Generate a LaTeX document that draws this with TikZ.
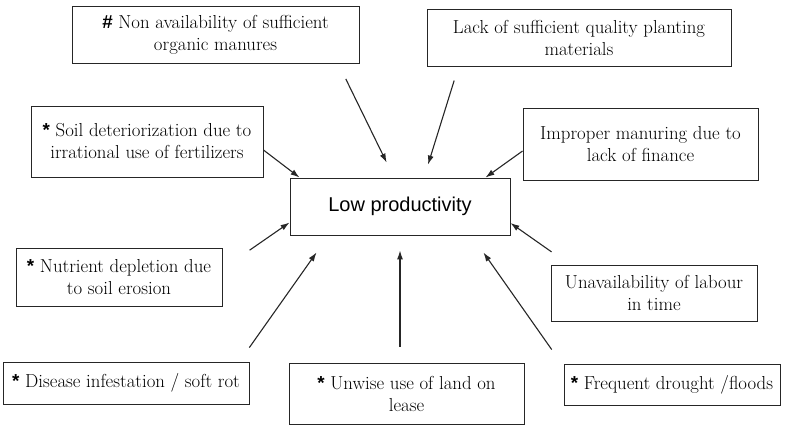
\documentclass[tikz,border=0pt]{standalone}
\usepackage{fontspec}
\usetikzlibrary{arrows.meta}
\newfontfamily\headfont{Liberation Sans}
\newcommand{\bullmark}[1]{{\headfont\bfseries #1}}
\begin{document}
\begin{tikzpicture}[x=1pt,y=-1pt,
    cause/.style={draw=black!85, line width=0.9pt, align=center, inner sep=0pt, font=\rmfamily\fontsize{18.8}{22}\selectfont},
    arr/.style={-{Latex[length=9pt,width=6pt]}, line width=1.1pt, black!85}]
	\useasboundingbox (0,0) rectangle (800,428);
    \node[cause, minimum width=287, minimum height=57] (manure) at (215.5,35) {\bullmark{\#} Non availability of sufficient\\organic manures};
    \node[cause, minimum width=304, minimum height=57] (planting) at (579,37.5) {Lack of sufficient quality planting\\materials};
    \node[cause, minimum width=232, minimum height=71] (soil) at (147,141.5) {\bullmark{*} Soil deteriorization due to\\irrational use of fertilizers};
    \node[cause, minimum width=235, minimum height=72] (finance) at (640.5,144) {Improper manuring due to\\lack of finance};
    \node[cause, minimum width=220, minimum height=57, font=\headfont\fontsize{20}{22}\selectfont] (low) at (400,206.5) {Low productivity};
    \node[cause, minimum width=206, minimum height=58] (nutrient) at (119,277) {\bullmark{*} Nutrient depletion due\\to soil erosion};
    \node[cause, minimum width=206, minimum height=56] (labour) at (654,293) {Unavailability of labour\\in time};
    \node[cause, minimum width=246, minimum height=42] (disease) at (126,383) {\bullmark{*} Disease infestation / soft rot};
    \node[cause, minimum width=235, minimum height=61] (lease) at (406.5,393.5) {\bullmark{*} Unwise use of land on\\lease};
    \node[cause, minimum width=216, minimum height=41] (drought) at (672,384.5) {\bullmark{*} Frequent drought /floods};
    % arrows into the centre box
    \draw[arr, shorten <=16.7, shorten >=16.7] ([xshift=-21]manure.south east) -- ([xshift=-6]low.north);
    \draw[arr, shorten <=14.7, shorten >=13.6] ([xshift=32]planting.south west) -- ([xshift=24]low.north);
    \draw[arr] ([yshift=-8.5]soil.east) -- ([xshift=10]low.north west);
    \draw[arr] ([yshift=-7]finance.west) -- ([xshift=-25]low.north east);
    \draw[arr, shorten <=33] ([yshift=8]nutrient.east) -- ([yshift=-16]low.west);
    \draw[arr, shorten <=22] ([xshift=19]labour.north west) -- ([yshift=-16.5]low.east);
    \draw[arr, shorten <=17.1, shorten >=20.8] ([xshift=-10]disease.north east) -- ([xshift=39]low.south west);
    \draw[arr, shorten <=16, shorten >=15] (lease.north -| low.south) -- (low.south);
    \draw[arr, shorten <=17.1, shorten >=20.8] ([xshift=-2]drought.north west) -- ([xshift=-39]low.south east);
\end{tikzpicture}
\end{document}
